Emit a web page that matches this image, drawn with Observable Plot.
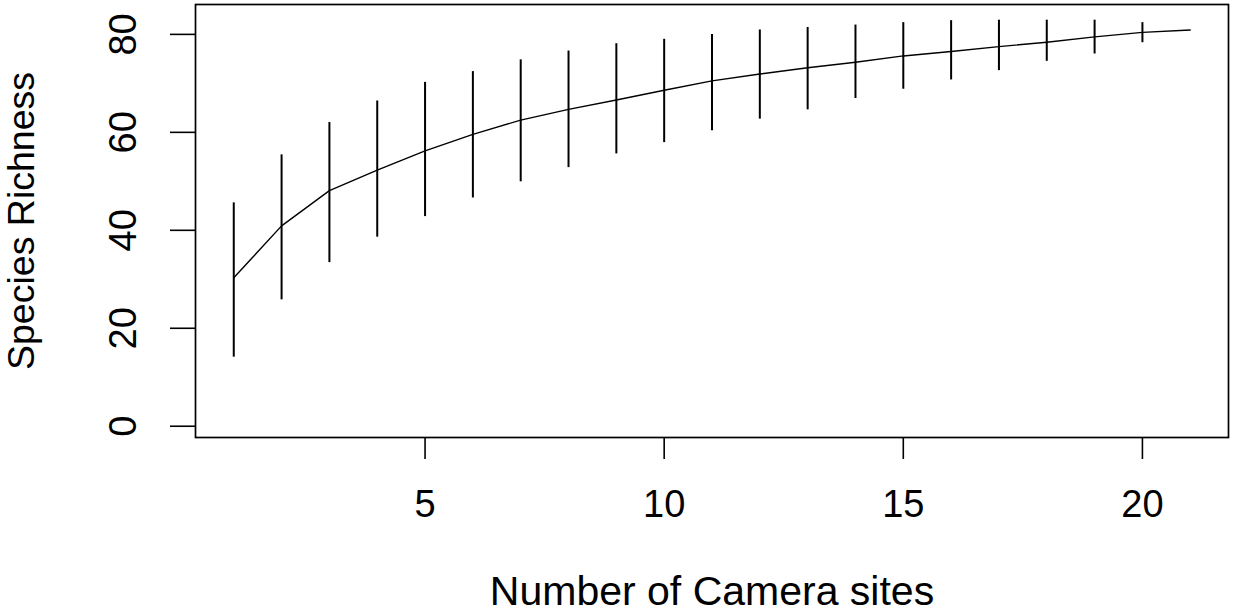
<!DOCTYPE html>
<html>
<head>
<meta charset="utf-8">
<script src="https://cdn.jsdelivr.net/npm/d3@7"></script>
<script src="https://cdn.jsdelivr.net/npm/@observablehq/plot@0.6"></script>
<style>
  html, body { margin: 0; padding: 0; background: #fff; }
  #chart { width: 1233px; height: 613px; overflow: hidden; }
</style>
</head>
<body>
<div id="chart"></div>
<script>
// Number of camera sites
const sites = [1, 2, 3, 4, 5, 6, 7, 8, 9, 10, 11, 12, 13, 14, 15, 16, 17, 18, 19, 20, 21];
// Mean species richness (accumulation curve)
const richness = [30.3, 40.9, 48.1, 52.3, 56.2, 59.6, 62.5, 64.7, 66.6, 68.6, 70.5, 71.9, 73.2, 74.3, 75.6, 76.5, 77.5, 78.4, 79.5, 80.4, 80.9];
// Upper and lower ends of the error bars
const upper = [45.6, 55.4, 62.0, 66.4, 70.2, 72.4, 74.8, 76.6, 78.1, 79.0, 80.0, 80.9, 81.4, 81.9, 82.4, 82.8, 82.9, 82.9, 82.9, 82.4, 80.9];
const lower = [14.1, 25.8, 33.4, 38.6, 42.8, 46.6, 49.9, 52.8, 55.6, 57.9, 60.3, 62.7, 64.6, 66.9, 68.8, 70.7, 72.6, 74.5, 76.0, 78.3, 80.9];
// Tick labels
const xTicks = [5, 10, 15, 20];
const yTicks = [0, 20, 40, 60, 80];
const xTitle = "Number of Camera sites";
const yTitle = "Species Richness";

const data = sites.map((s, i) => ({site: s, mean: richness[i], lo: lower[i], hi: upper[i]}));

const chart = Plot.plot({
  width: 1233,
  height: 613,
  marginLeft: 195,
  marginRight: 5,
  marginTop: 4,
  marginBottom: 176,
  style: {fontFamily: "Arial, 'Liberation Sans', sans-serif", color: "#000", background: "#fff", overflow: "visible"},
  x: {domain: [0.2, 21.8]},
  y: {domain: [-2.3, 86.1]},
  marks: [
    Plot.axisX({ticks: xTicks, tickSize: 22, tickPadding: 31, fontSize: 38, label: null, strokeWidth: 1.6}),
    Plot.axisY({ticks: yTicks, tickSize: 25, tickPadding: 35, tickRotate: -90, fontSize: 38, label: null, strokeWidth: 1.6}),
    Plot.text([yTitle], {frameAnchor: "left", dx: -162, rotate: -90, fontSize: 37.5, textAnchor: "middle", lineAnchor: "bottom", fill: "#000"}),
    Plot.text([xTitle], {frameAnchor: "bottom", dy: 167, fontSize: 41, textAnchor: "middle", lineAnchor: "bottom", fill: "#000"}),
    Plot.ruleX(data, {x: "site", y1: "lo", y2: "hi", stroke: "#000", strokeWidth: 2}),
    Plot.line(data, {x: "site", y: "mean", stroke: "#000", strokeWidth: 1.4}),
    Plot.frame({stroke: "#000", strokeWidth: 1.7})
  ]
});
document.getElementById("chart").appendChild(chart);
</script>
</body>
</html>
